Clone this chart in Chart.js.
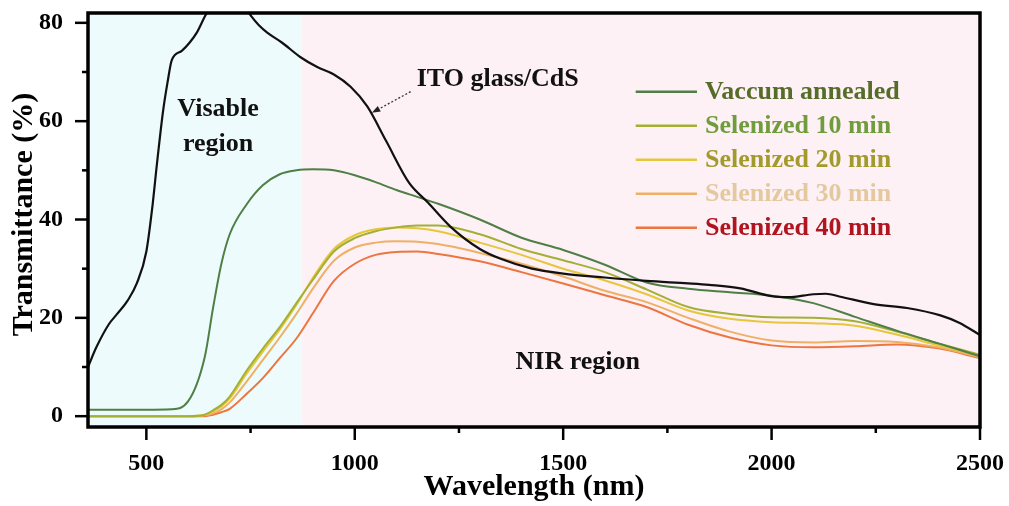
<!DOCTYPE html>
<html>
<head>
<meta charset="utf-8">
<title>Transmittance spectra</title>
<script src="https://cdn.jsdelivr.net/npm/chart.js@4.4.1/dist/chart.umd.min.js"></script>
<style>
  html, body { margin: 0; padding: 0; background: #fff; }
  canvas { display: block; }
</style>
</head>
<body>
<canvas id="trans-chart" width="1009" height="506"></canvas>
<script>
// Wavelength grid for the five sample curves (nm)
var wavelengths = [360, 500, 560, 600, 640, 660, 680, 700, 740, 780, 820, 860, 900, 950, 1000, 1050, 1100, 1150, 1200, 1300, 1400, 1500, 1600, 1700, 1800, 1900, 2000, 2100, 2200, 2300, 2400, 2500];

// Transmittance (%) of each sample on that grid
var vacuumAnnealed = [1.3, 1.3, 1.4, 3, 12, 22, 31, 37, 43, 47, 49.2, 50, 50.2, 50, 49, 47.6, 46, 44.6, 43.2, 40, 36.3, 33.8, 30.8, 27.2, 25.9, 25.2, 24.5, 23, 20.2, 17.4, 14.8, 12.2];
var selenized10 = [0, 0, 0, 0, 0.3, 1.2, 2.3, 4, 9.2, 13.8, 18.1, 23, 27.8, 33.5, 36.2, 37.6, 38.4, 38.8, 38.8, 37, 34, 31.7, 29.3, 25.8, 22.2, 20.8, 20.1, 20, 19.3, 17.2, 14.8, 12.5];
var selenized20 = [0, 0, 0, 0, 0.3, 1, 2, 3.6, 8.6, 13.2, 17.6, 22.6, 28.2, 34, 36.8, 38, 38.4, 38.2, 37.6, 35.3, 32.8, 30, 27.6, 24.8, 21.5, 19.8, 19.1, 18.9, 18.4, 16.6, 14.4, 12.3];
var selenized30 = [0, 0, 0, 0, 0.2, 0.6, 1.4, 2.8, 7, 11.5, 16, 20.8, 26, 31.6, 34.3, 35.3, 35.6, 35.5, 35, 33.2, 31, 28.4, 25.5, 23.2, 20, 17.2, 15.4, 15, 15.3, 15.1, 14, 12];
var selenized40 = [0, 0, 0, 0, 0, 0.3, 0.8, 1.5, 4.5, 7.8, 11.8, 15.8, 21, 27.5, 31, 32.8, 33.4, 33.5, 33, 31.5, 29.3, 27, 24.6, 22.2, 18.6, 16, 14.4, 14, 14.2, 14.6, 13.8, 11.8];

// Bare ITO glass/CdS substrate, read on its own grid
var itoWavelengths = [360, 380, 410, 430, 455, 477, 500, 515, 525, 540, 551, 561, 585, 604, 621, 645, 670, 700, 730, 752, 770, 790, 825, 870, 910, 950, 990, 1030, 1075, 1130, 1175, 1230, 1300, 1350, 1425, 1500, 1600, 1700, 1800, 1850, 1925, 2000, 2040, 2100, 2130, 2165, 2245, 2325, 2405, 2450, 2500];
var itoValues = [10, 14, 18.7, 20.8, 23.5, 27, 33.5, 43, 51, 62, 68, 72.4, 74.3, 76, 78, 82, 84.5, 85.5, 84, 81.3, 79.5, 78, 76, 73, 71, 69.5, 67, 63, 56, 47.5, 43.5, 38.5, 34, 32, 30, 29, 28.2, 27.5, 27, 26.7, 26, 24.4, 24.2, 24.8, 24.9, 24.3, 22.8, 22, 20.5, 19, 16.5];

var seriesLabels = ['Vaccum annealed', 'Selenized 10 min', 'Selenized 20 min', 'Selenized 30 min', 'Selenized 40 min'];

// Axis ticks
var xMajorTicks = [500, 1000, 1500, 2000, 2500];
var xMinorTicks = [750, 1250, 1750, 2250];
var yMajorTicks = [0, 20, 40, 60, 80];
var yMinorTicks = [10, 30, 50, 70];

// Visible / NIR boundary (nm)
var regionSplit = 873;

var serif = '"Liberation Serif", "Times New Roman", serif';

function toPoints(xs, ys) {
  return xs.map(function (x, i) { return { x: x, y: ys[i] }; });
}

// keep the plot box where it is: no extra room for edge labels
function noEdgePadding(scale) {
  scale.paddingTop = 0;
  scale.paddingBottom = 0;
  scale.paddingLeft = 0;
  scale.paddingRight = 0;
}

// Shade the visible and NIR regions behind the curves
var regionShading = {
  id: 'regionShading',
  beforeDatasetsDraw: function (chart) {
    var ctx = chart.ctx, area = chart.chartArea;
    var split = chart.scales.x.getPixelForValue(regionSplit);
    ctx.save();
    ctx.fillStyle = '#eefbfc';
    ctx.fillRect(area.left, area.top, split - area.left, area.bottom - area.top);
    ctx.fillStyle = '#fdf1f6';
    ctx.fillRect(split, area.top, area.right - split, area.bottom - area.top);
    ctx.restore();
  }
};

// Region names, ITO label with its dotted arrow, legend, y title and frame
var decorations = {
  id: 'decorations',
  afterDraw: function (chart) {
    var ctx = chart.ctx, area = chart.chartArea;
    var xs = chart.scales.x, ys = chart.scales.y;
    ctx.save();

    //Text labels
    ctx.fillStyle = '#111';
    ctx.font = 'bold 26px ' + serif;
    ctx.textAlign = 'center';
    ctx.textBaseline = 'middle';
    ctx.fillText('Visable', xs.getPixelForValue(672), ys.getPixelForValue(62.4));
    ctx.fillText('region', xs.getPixelForValue(672), ys.getPixelForValue(55.3));
    ctx.fillText('ITO glass/CdS', xs.getPixelForValue(1343), ys.getPixelForValue(68.6));
    ctx.fillText('NIR region', xs.getPixelForValue(1535), ys.getPixelForValue(11));

    //Dotted arrow pointing at the ITO curve
    var tx = xs.getPixelForValue(1134), ty = ys.getPixelForValue(66);
    var hx = xs.getPixelForValue(1041), hy = ys.getPixelForValue(61.7);
    var ang = Math.atan2(hy - ty, hx - tx);
    ctx.strokeStyle = '#333';
    ctx.lineWidth = 1.3;
    ctx.setLineDash([2, 2]);
    ctx.beginPath();
    ctx.moveTo(tx, ty);
    ctx.lineTo(hx - 6 * Math.cos(ang), hy - 6 * Math.sin(ang));
    ctx.stroke();
    ctx.setLineDash([]);
    ctx.fillStyle = '#222';
    ctx.beginPath();
    ctx.moveTo(hx, hy);
    ctx.lineTo(hx - 9 * Math.cos(ang - 0.35), hy - 9 * Math.sin(ang - 0.35));
    ctx.lineTo(hx - 9 * Math.cos(ang + 0.35), hy - 9 * Math.sin(ang + 0.35));
    ctx.closePath();
    ctx.fill();

    //Legend inside the plot
    var lx0 = xs.getPixelForValue(1674), lx1 = xs.getPixelForValue(1821);
    var rowY = ys.getPixelForValue(66);
    ctx.textAlign = 'left';
    chart.data.datasets.forEach(function (ds) {
      if (!ds.legendColor) return;
      ctx.strokeStyle = ds.borderColor;
      ctx.lineWidth = 2.5;
      ctx.beginPath();
      ctx.moveTo(lx0, rowY);
      ctx.lineTo(lx1, rowY);
      ctx.stroke();
      ctx.fillStyle = ds.legendColor;
      ctx.fillText(ds.label, lx1 + 8, rowY + 1);
      rowY += 34;
    });

    //Y axis title, a little above the plot centre as in the figure
    ctx.save();
    ctx.translate(24, ys.getPixelForValue(41));
    ctx.rotate(-Math.PI / 2);
    ctx.textAlign = 'center';
    ctx.fillStyle = '#000';
    ctx.font = 'bold 30px ' + serif;
    ctx.fillText('Transmittance (%)', 0, 0);
    ctx.restore();

    //Frame
    ctx.strokeStyle = '#000';
    ctx.lineWidth = 3.5;
    ctx.strokeRect(area.left, area.top, area.right - area.left, area.bottom - area.top);

    //Outward tick marks
    function tick(x1, y1, x2, y2) {
      ctx.beginPath();
      ctx.moveTo(x1, y1);
      ctx.lineTo(x2, y2);
      ctx.stroke();
    }
    ctx.lineWidth = 2.5;
    xMajorTicks.forEach(function (v) { var p = xs.getPixelForValue(v); tick(p, area.bottom, p, area.bottom + 13); });
    xMinorTicks.forEach(function (v) { var p = xs.getPixelForValue(v); tick(p, area.bottom, p, area.bottom + 6); });
    yMajorTicks.forEach(function (v) { var p = ys.getPixelForValue(v); tick(area.left, p, area.left - 13, p); });
    yMinorTicks.forEach(function (v) { var p = ys.getPixelForValue(v); tick(area.left, p, area.left - 6, p); });

    ctx.restore();
  }
};

var ctx = document.getElementById('trans-chart');

var chart = new Chart(ctx, {
  type: 'line',
  data: {
    datasets: [{
      label: 'ITO glass/CdS',
      data: toPoints(itoWavelengths, itoValues),
      borderColor: '#111',
      borderWidth: 2.2
    }, {
      label: seriesLabels[0],
      data: toPoints(wavelengths, vacuumAnnealed),
      borderColor: '#4f7f45',
      legendColor: '#566d2a'
    }, {
      label: seriesLabels[1],
      data: toPoints(wavelengths, selenized10),
      borderColor: '#a3b035',
      legendColor: '#719c3c'
    }, {
      label: seriesLabels[2],
      data: toPoints(wavelengths, selenized20),
      borderColor: '#e6c63a',
      legendColor: '#a39a2c'
    }, {
      label: seriesLabels[3],
      data: toPoints(wavelengths, selenized30),
      borderColor: '#eeb065',
      legendColor: '#e4c9a0'
    }, {
      label: seriesLabels[4],
      data: toPoints(wavelengths, selenized40),
      borderColor: '#ec7540',
      legendColor: '#b0141e'
    }]
  },
  options: {
    responsive: false,
    animation: false,
    devicePixelRatio: 1,
    layout: { padding: { left: 0, right: 29, top: 13, bottom: 0 } },
    elements: {
      point: { radius: 0 },
      line: { borderWidth: 2, cubicInterpolationMode: 'monotone', fill: false }
    },
    plugins: {
      legend: { display: false },
      tooltip: { enabled: false }
    },
    scales: {
      x: {
        type: 'linear',
        min: 360,
        max: 2500,
        grid: { display: false, drawTicks: false },
        border: { display: false },
        afterBuildTicks: function (scale) {
          scale.ticks = xMajorTicks.map(function (v) { return { value: v }; });
        },
        afterFit: function (scale) {
          scale.height = 79;
          noEdgePadding(scale);
        },
        ticks: {
          color: '#000',
          padding: 22,
          maxRotation: 0,
          font: { family: serif, size: 24, weight: 'bold' },
          callback: function (value) { return String(value); }
        },
        title: {
          display: true,
          text: 'Wavelength (nm)',
          color: '#000',
          font: { family: serif, size: 30, weight: 'bold' },
          padding: { top: 0, bottom: 1 }
        }
      },
      y: {
        min: -2.2,
        max: 82,
        grid: { display: false, drawTicks: false },
        border: { display: false },
        afterBuildTicks: function (scale) {
          scale.ticks = yMajorTicks.map(function (v) { return { value: v }; });
        },
        afterFit: function (scale) {
          scale.width = 88;
          noEdgePadding(scale);
        },
        ticks: {
          color: '#000',
          padding: 25,
          font: { family: serif, size: 24, weight: 'bold' }
        }
      }
    }
  },
  plugins: [regionShading, decorations]
});
</script>
</body>
</html>
